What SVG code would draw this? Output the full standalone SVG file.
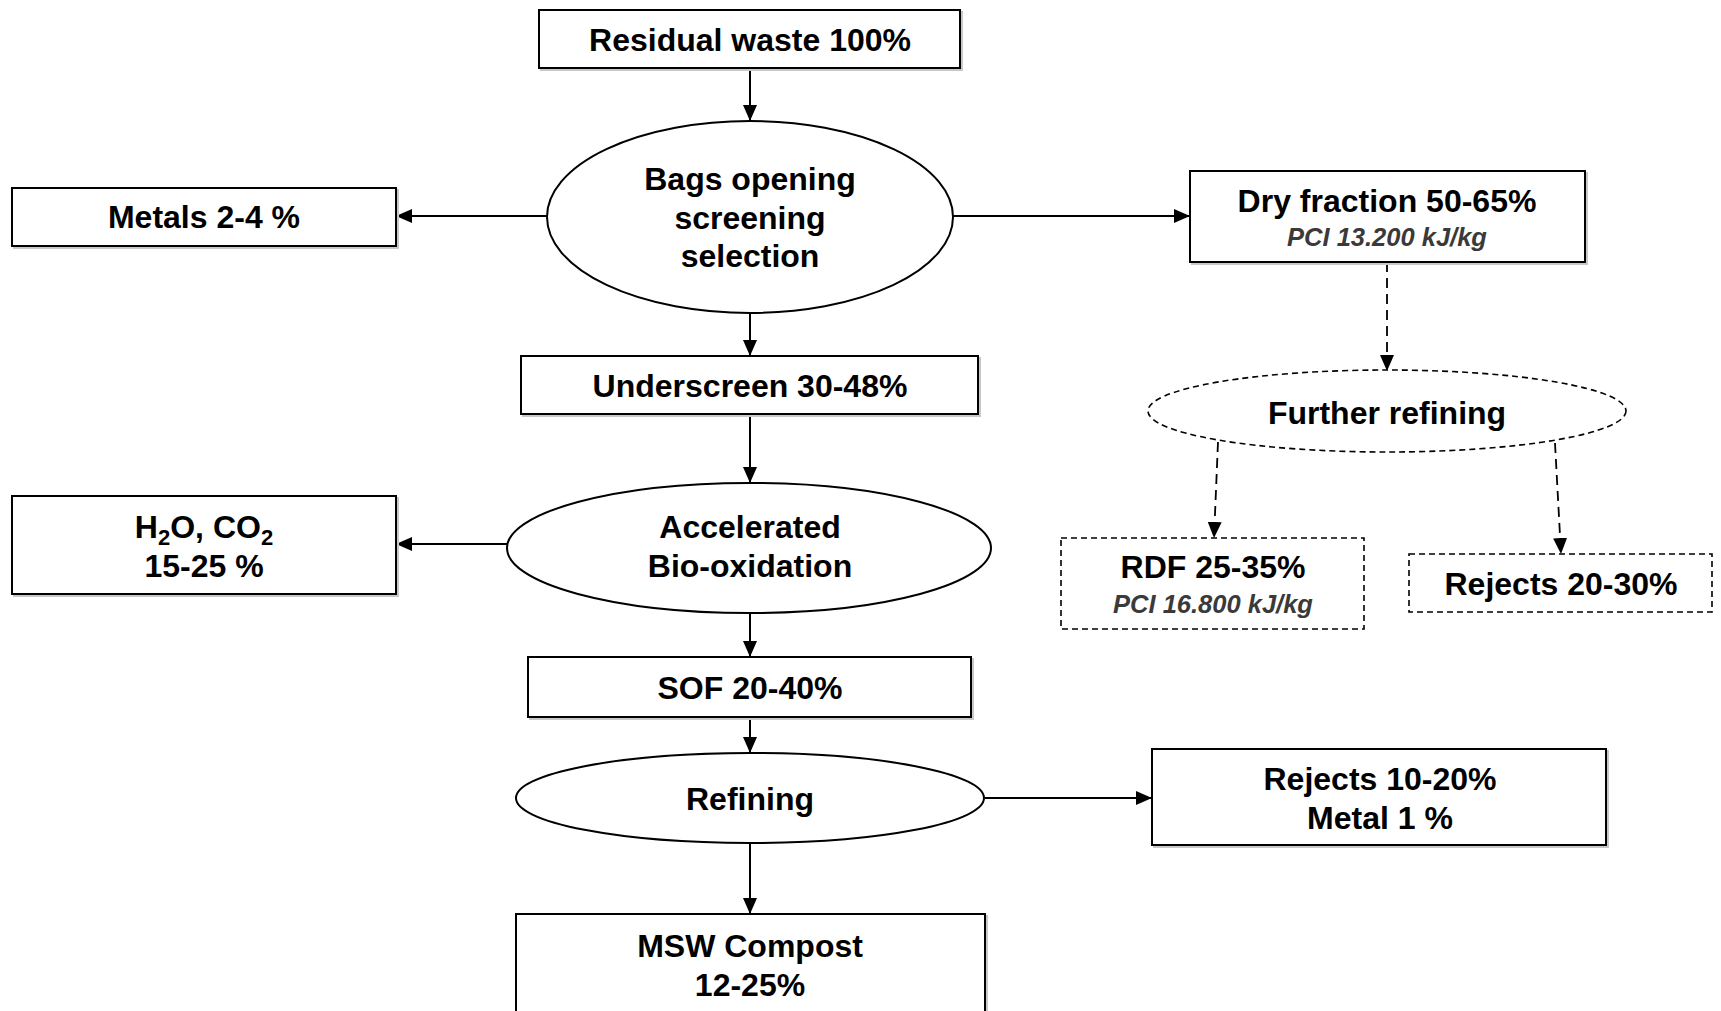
<svg xmlns="http://www.w3.org/2000/svg" width="1721" height="1011" viewBox="0 0 1721 1011">
<style>
.box{fill:#fff;stroke:#000;stroke-width:2}
.dbox{fill:#fff;stroke:#000;stroke-width:1.6;stroke-dasharray:6 4}
.sh{fill:none;stroke:#c8c8c8;stroke-width:2}
.t{font-family:"Liberation Sans",Arial,sans-serif;font-weight:bold;font-size:32px;text-anchor:middle;fill:#000}
.it{font-family:"Liberation Sans",Arial,sans-serif;font-weight:bold;font-style:italic;font-size:25.5px;text-anchor:middle;fill:#3a3a3a}
.c{fill:none;stroke:#000;stroke-width:2}
.dc{fill:none;stroke:#000;stroke-width:1.8;stroke-dasharray:10 6}
</style>
<defs>
<marker id="ah" viewBox="0 0 16 14" refX="16" refY="7" markerWidth="16" markerHeight="14" markerUnits="userSpaceOnUse" orient="auto">
<path d="M0,0 L16,7 L0,14 Z" fill="#000"/>
</marker>
</defs>
<rect width="1721" height="1011" fill="#fff"/>

<g id="connectors">
<path class="c" d="M750,68 L750,121" marker-end="url(#ah)"/>
<path class="c" d="M547,216 L396,216" marker-end="url(#ah)"/>
<path class="c" d="M953,216 L1190,216" marker-end="url(#ah)"/>
<path class="c" d="M750,314 L750,356" marker-end="url(#ah)"/>
<path class="dc" d="M1387,262 L1387,371" marker-end="url(#ah)"/>
<path class="dc" d="M1218,442 L1214,538" marker-end="url(#ah)"/>
<path class="dc" d="M1555,443 L1561,554" marker-end="url(#ah)"/>
<path class="c" d="M750,414 L750,483" marker-end="url(#ah)"/>
<path class="c" d="M507,544 L396,544" marker-end="url(#ah)"/>
<path class="c" d="M750,612 L750,657" marker-end="url(#ah)"/>
<path class="c" d="M750,717 L750,753" marker-end="url(#ah)"/>
<path class="c" d="M985,798 L1152,798" marker-end="url(#ah)"/>
<path class="c" d="M750,843 L750,914" marker-end="url(#ah)"/>
</g>

<g id="residual">
<rect class="sh" x="541" y="12" width="421" height="58"/>
<rect class="box" x="539" y="10" width="421" height="58"/>
<text class="t" x="750" y="51">Residual waste 100%</text>
</g>

<g id="bags">
<ellipse class="box" cx="750" cy="217" rx="203" ry="96"/>
<text class="t" x="750" y="190">Bags opening</text>
<text class="t" x="750" y="229">screening</text>
<text class="t" x="750" y="267">selection</text>
</g>

<g id="metals">
<rect class="sh" x="14" y="190" width="384" height="58"/>
<rect class="box" x="12" y="188" width="384" height="58"/>
<text class="t" x="204" y="228">Metals 2-4 %</text>
</g>

<g id="dry">
<rect class="sh" x="1192" y="173" width="395" height="91"/>
<rect class="box" x="1190" y="171" width="395" height="91"/>
<text class="t" x="1387" y="212">Dry fraction 50-65%</text>
<text class="it" x="1387" y="246">PCI 13.200 kJ/kg</text>
</g>

<g id="further">
<ellipse class="dbox" cx="1387" cy="411" rx="239" ry="41"/>
<text class="t" x="1387" y="424">Further refining</text>
</g>

<g id="rdf">
<rect class="dbox" x="1061" y="538" width="303" height="91"/>
<text class="t" x="1213" y="578">RDF 25-35%</text>
<text class="it" x="1213" y="613">PCI 16.800 kJ/kg</text>
</g>

<g id="rejects2030">
<rect class="dbox" x="1409" y="554" width="303" height="58"/>
<text class="t" x="1561" y="595">Rejects 20-30%</text>
</g>

<g id="underscreen">
<rect class="sh" x="523" y="358" width="457" height="58"/>
<rect class="box" x="521" y="356" width="457" height="58"/>
<text class="t" x="750" y="397">Underscreen 30-48%</text>
</g>

<g id="accelerated">
<ellipse class="box" cx="749" cy="548" rx="242" ry="65"/>
<text class="t" x="750" y="538">Accelerated</text>
<text class="t" x="750" y="577">Bio-oxidation</text>
</g>

<g id="h2o">
<rect class="sh" x="14" y="498" width="384" height="98"/>
<rect class="box" x="12" y="496" width="384" height="98"/>
<text class="t" x="204" y="538">H<tspan font-size="22" dy="7">2</tspan><tspan dy="-7">O, CO</tspan><tspan font-size="22" dy="7">2</tspan></text>
<text class="t" x="204" y="577">15-25 %</text>
</g>

<g id="sof">
<rect class="sh" x="530" y="659" width="443" height="60"/>
<rect class="box" x="528" y="657" width="443" height="60"/>
<text class="t" x="750" y="699">SOF 20-40%</text>
</g>

<g id="refining">
<ellipse class="box" cx="750" cy="798" rx="234" ry="45"/>
<text class="t" x="750" y="810">Refining</text>
</g>

<g id="rejects1020">
<rect class="sh" x="1154" y="751" width="454" height="96"/>
<rect class="box" x="1152" y="749" width="454" height="96"/>
<text class="t" x="1380" y="790">Rejects 10-20%</text>
<text class="t" x="1380" y="829">Metal 1 %</text>
</g>

<g id="msw">
<rect class="sh" x="518" y="916" width="469" height="120"/>
<rect class="box" x="516" y="914" width="469" height="120"/>
<text class="t" x="750" y="957">MSW Compost</text>
<text class="t" x="750" y="996">12-25%</text>
</g>
</svg>
